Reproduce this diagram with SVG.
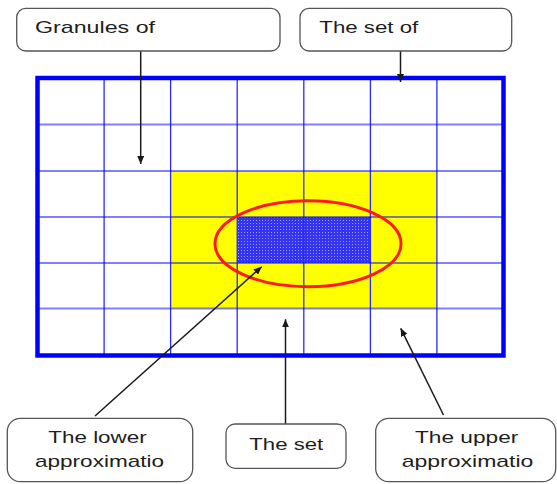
<svg xmlns="http://www.w3.org/2000/svg" width="557" height="484" viewBox="0 0 557 484">
<style>
.box{fill:#fff;stroke:#555;stroke-width:1.3}
.lbl{font-family:"Liberation Sans",Arial,sans-serif;font-size:17px;fill:#1e1e1e}
.vl{stroke:#2a2aff;stroke-width:1.3}
.hl{stroke:#0000ff;stroke-opacity:0.5;stroke-width:2}
.con{stroke:#1a1a1a;stroke-width:1.5;fill:none;marker-end:url(#ah)}
</style>
<defs>
<marker id="ah" markerUnits="userSpaceOnUse" markerWidth="9" markerHeight="7" refX="8" refY="3.5" orient="auto">
<path d="M0,0 L8,3.5 L0,7 z" fill="#1a1a1a"/>
</marker>
<pattern id="dots" width="3" height="3" patternUnits="userSpaceOnUse">
<rect width="3" height="3" fill="#3434f0"/>
<rect x="1" y="1" width="1" height="1" fill="#a0a0ff"/>
</pattern>
</defs>
<rect width="557" height="484" fill="#fff"/>
<g id="grid">
<rect x="170.6" y="171" width="266.3" height="137.5" fill="#ffff00"/>
<rect x="237.2" y="217" width="133.2" height="46" fill="url(#dots)"/>
<g class="vl">
<line x1="104.1" y1="78" x2="104.1" y2="355.5"/>
<line x1="170.6" y1="78" x2="170.6" y2="355.5"/>
<line x1="237.2" y1="78" x2="237.2" y2="355.5"/>
<line x1="303.8" y1="78" x2="303.8" y2="355.5"/>
<line x1="370.4" y1="78" x2="370.4" y2="355.5"/>
<line x1="436.9" y1="78" x2="436.9" y2="355.5"/>
</g>
<g class="hl">
<line x1="37.5" y1="124.5" x2="503.5" y2="124.5"/>
<line x1="37.5" y1="171" x2="503.5" y2="171"/>
<line x1="37.5" y1="217" x2="503.5" y2="217"/>
<line x1="37.5" y1="263" x2="503.5" y2="263"/>
<line x1="37.5" y1="308.5" x2="503.5" y2="308.5"/>
</g>
<rect x="37.5" y="78" width="466" height="277.5" fill="none" stroke="#0000ff" stroke-width="4.5"/>
<ellipse cx="308" cy="243.7" rx="93" ry="43" fill="none" stroke="#ff1a1a" stroke-width="3"/>
</g>
<g id="connectors">
<line class="con" x1="140.7" y1="51" x2="140.7" y2="164"/>
<line class="con" x1="400.5" y1="51" x2="400.5" y2="82"/>
<line class="con" x1="95" y1="416" x2="261.7" y2="266.7"/>
<line class="con" x1="285.5" y1="424" x2="285.5" y2="319.3"/>
<line class="con" x1="443.5" y1="415" x2="400.7" y2="328.3"/>
</g>
<g id="granules">
<rect class="box" x="16.7" y="8.3" width="263.3" height="42.7" rx="9"/>
<text class="lbl" x="35" y="33.3" textLength="120" lengthAdjust="spacingAndGlyphs">Granules of</text>
</g>
<g id="setof">
<rect class="box" x="300" y="8.3" width="211.7" height="42.7" rx="9"/>
<text class="lbl" x="319.3" y="33.3" textLength="99" lengthAdjust="spacingAndGlyphs">The set of</text>
</g>
<g id="lower">
<rect class="box" x="7.3" y="418.3" width="185.4" height="63.4" rx="13"/>
<text class="lbl" x="48.3" y="443.3" textLength="98.4" lengthAdjust="spacingAndGlyphs">The lower</text>
<text class="lbl" x="35" y="466.7" textLength="129" lengthAdjust="spacingAndGlyphs">approximatio</text>
</g>
<g id="set">
<rect class="box" x="226" y="424" width="120" height="44.3" rx="9"/>
<text class="lbl" x="249.3" y="450" textLength="74" lengthAdjust="spacingAndGlyphs">The set</text>
</g>
<g id="upper">
<rect class="box" x="375.7" y="418.3" width="180" height="63.4" rx="13"/>
<text class="lbl" x="415" y="443.3" textLength="103.3" lengthAdjust="spacingAndGlyphs">The upper</text>
<text class="lbl" x="401.7" y="466.7" textLength="131.7" lengthAdjust="spacingAndGlyphs">approximatio</text>
</g>
</svg>
